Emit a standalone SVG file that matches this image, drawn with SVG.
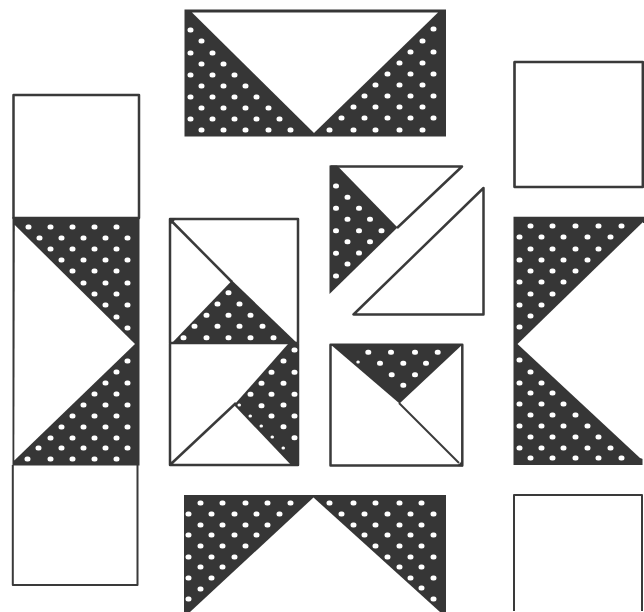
<svg xmlns="http://www.w3.org/2000/svg" width="644" height="612" viewBox="0 0 644 612">
<style>
.dark{fill:#363636}
.white{fill:#fff}
.line{fill:none;stroke:#3a3a3a;stroke-width:2.5;stroke-linejoin:round}
.thin{stroke-width:2}
.dots{fill:none;stroke:#fff;stroke-width:5;stroke-linecap:round}
.small{fill:none;stroke:#fff;stroke-width:3;stroke-linecap:round}
</style>
<rect width="644" height="612" fill="#fff"/>

<g id="top-block">
<rect class="dark" x="184.500" y="9.500" width="261.500" height="127"/>
<path class="white" d="M192 12.500H438L314 133Z"/>
<path class="dots" d="M190 30h1M201 41h1M190 53h1M212 53h1M201 64h1M223 64h1M190 75h1M212 75h1M234 75h1M201 86h1M223 86h1M245 86h1M190 97h1M212 97h1M234 97h1M256 97h1M201 108h1M223 108h1M245 108h1M268 108h1M190 119h1M212 119h1M234 119h1M256 119h1M279 119h1M201 130h1M223 130h1M245 130h1M268 130h1M290 130h1"/>
<path class="dots" d="M433 29h1M422 41h1M410 52h1M433 52h1M399 63h1M422 63h1M387 74h1M410 74h1M433 74h1M375 85h1M399 85h1M422 85h1M364 96h1M387 96h1M410 96h1M433 96h1M353 107h1M375 107h1M399 107h1M422 107h1M341 118h1M364 118h1M387 118h1M410 118h1M433 118h1M329 130h1M353 130h1M375 130h1M399 130h1M422 130h1"/>
</g>

<g id="bottom-block">
<path class="dark" d="M184 495H446V612H184Z"/>
<path class="white" d="M313.500 497.500L440 612H190Z"/>
<path class="dots" d="M200 503h1M222 503h1M245 503h1M267 503h1M290 503h1M188 514h1M211 514h1M234 514h1M256 514h1M279 514h1M200 525h1M222 525h1M245 525h1M267 525h1M188 535h1M211 535h1M234 535h1M256 535h1M200 546h1M222 546h1M245 546h1M188 557h1M211 557h1M234 557h1M200 567h1M222 567h1M188 578h1M211 578h1M200 589h1M188 599h1"/>
<path class="dots" d="M329 503h1M353 503h1M375 503h1M399 503h1M421 503h1M341 514h1M364 514h1M387 514h1M410 514h1M433 514h1M353 525h1M375 525h1M399 525h1M421 525h1M364 535h1M387 535h1M410 535h1M433 535h1M375 546h1M399 546h1M421 546h1M387 557h1M410 557h1M433 557h1M399 567h1M421 567h1M410 578h1M433 578h1M421 588h1M433 599h1"/>
</g>

<g id="left-top-square">
<rect class="line" x="13.500" y="95" width="125.500" height="123"/>
</g>
<g id="left-bottom-square">
<path class="line thin" d="M12.800 465V585H137.500V465"/>
</g>
<g id="left-band">
<rect class="dark" x="12.500" y="217" width="127" height="248.500"/>
<path class="white" d="M14.800 225L135 344L14.300 460.500Z"/>
<path class="dots" d="M28 227h1M50 227h1M72 227h1M94 227h1M116 227h1M39 238h1M61 238h1M83 238h1M105 238h1M127 238h1M50 249h1M72 249h1M94 249h1M116 249h1M61 260h1M83 260h1M105 260h1M127 260h1M72 271h1M94 271h1M116 271h1M83 283h1M105 283h1M127 283h1M94 294h1M116 294h1M105 305h1M127 305h1M116 317h1M127 328h1"/>
<path class="dots" d="M127 361h1M116 372h1M105 383h1M127 383h1M94 394h1M116 394h1M83 405h1M105 405h1M127 405h1M72 416h1M94 416h1M116 416h1M61 427h1M83 427h1M105 427h1M127 427h1M50 438h1M72 438h1M94 438h1M116 438h1M38 448h1M61 448h1M83 448h1M105 448h1M127 448h1M27 459h1M50 459h1M72 459h1M94 459h1M116 459h1"/>
</g>

<g id="right-top-square">
<path class="line" d="M642.800 62H514.500V187H642.800Z"/>
<path fill="none" stroke="#3a3a3a" stroke-width="1.500" d="M514.500 62V187"/>
</g>
<g id="right-bottom-square">
<path class="line thin" d="M514 611V495H642V611"/>
</g>
<g id="right-band">
<path class="dark" d="M513.500 216.800H644V223H642.500V458V465H513.500Z"/>
<path class="white" d="M517.500 344L643 222V459L640 458Z"/>
<path class="dots" d="M530 226h1M552 226h1M575 226h1M598 226h1M621 226h1M519 237h1M541 237h1M563 237h1M587 237h1M610 237h1M530 249h1M552 249h1M575 249h1M598 249h1M519 260h1M541 260h1M563 260h1M587 260h1M530 271h1M552 271h1M575 271h1M519 282h1M541 282h1M563 282h1M530 294h1M552 294h1M519 305h1M541 305h1M530 316h1M519 327h1"/>
<path class="dots" d="M519 360h1M530 372h1M519 383h1M541 383h1M530 393h1M552 393h1M519 404h1M541 404h1M563 404h1M530 415h1M552 415h1M575 415h1M519 426h1M541 426h1M563 426h1M587 426h1M530 437h1M552 437h1M575 437h1M598 437h1M519 448h1M541 448h1M563 448h1M587 448h1M610 448h1M530 458h1M552 458h1M575 458h1M598 458h1M621 458h1"/>
</g>

<g id="center-upper-left">
<rect class="line" x="170" y="219" width="128" height="124"/>
<path class="dark" d="M169 218H176L172 224L169 222Z"/>
<path class="line" d="M171 220.500L232 282"/>
<path class="dark" d="M232 280.500L298 344H171Z"/>
<path class="dots" d="M228 292.700h1M217 304h1M239 304h1M206 315.300h1M228 315.300h1M250 315.300h1M194 326.300h1M217 326.300h1M239 326.300h1M262 326.300h1M183 337.700h1M206 337.700h1M228 337.700h1M250 337.700h1M273 337.700h1"/>
</g>

<g id="center-lower-left">
<path class="line" d="M170 343.500V465H298V343.500"/>
<path class="dark" d="M288 344H299V466H292L234 405Z"/>
<path class="line" d="M172 463L236 403"/>
<path class="dark" d="M169 459L175 465.500H169Z"/>
<path class="dots" d="M294 350h1M294 372.300h1M294 394.300h1M294 416h1M294 437.700h1M283 361h1M283 383.300h1M283 405h1M283 426.700h1M271 372.300h1M271 394.300h1M271 416h1M261 383.300h1M261 405.700h1M250 394.300h1"/>
<path class="small" d="M283 448h.5M272 437h.5M261 426h.5M250 416h.5M239 405h.5"/>
</g>

<g id="center-top-triangle">
<path class="line" d="M330.500 166.500H462L397 228"/>
<path class="dark" d="M329.500 165.500H337L397.500 227.500L329.500 294Z"/>
<path class="dots" d="M335.500 186h1M335.500 208.300h1M335.500 230.700h1M335.500 253.300h1M335.500 276h1M347 197.300h1M347 219.300h1M347 241.700h1M347 264h1M358.500 208.300h1M358.500 230.700h1M358.500 253h1M369.500 219.300h1M369.500 241.700h1M381 230.700h1"/>
</g>

<g id="center-side-triangle">
<path class="line" d="M353.500 314.500H483.500V188Z"/>
</g>

<g id="center-lower-right">
<rect class="line" x="330.500" y="344.800" width="131.800" height="120.700"/>
<path class="dark" d="M330 344H463L399.500 403.500Z"/>
<path class="line thin" d="M399 403L459 463"/>
<path class="dark" d="M457 466L463 460V466.500Z"/>
<path class="dots" d="M367.800 352.300h1M390.500 352.300h1M414.500 352.300h1M437.200 352.300h1M379.500 363.300h1M402.800 363.300h1M425.500 363.300h1M391.200 374.700h1M414.500 374.700h1M402.800 385.300h1"/>
<path class="small" d="M357.800 362h.5"/>
</g>
</svg>
